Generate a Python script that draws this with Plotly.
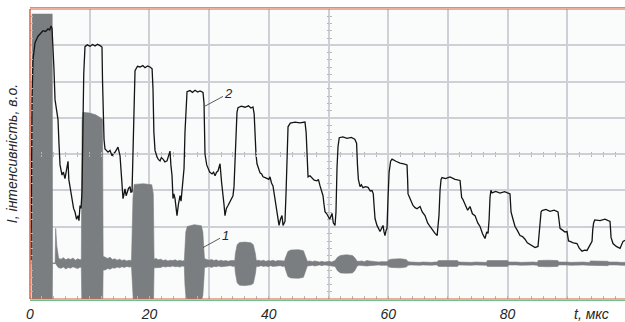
import plotly.graph_objects as go

# ---- data (t in microseconds, intensity in arbitrary units) ----
# curve 1 (grey, oscillating signal): upper / lower envelope
t1 = [0.30, 0.36, 3.72, 3.78, 4.20, 4.30, 4.50, 4.80,
      5.2, 5.6, 6.0, 6.4, 6.8, 7.2, 7.6, 8.0, 8.4, 8.6,
      8.72, 8.85, 10.0, 11.0, 11.8, 12.15, 12.25,
      12.6, 13.0, 13.4, 13.8, 14.2, 14.6, 15.0, 15.4, 15.8, 16.2, 16.6, 17.0,
      17.25, 17.45, 19.0, 20.4, 20.65, 20.78,
      21.1, 21.5, 21.9, 22.3, 22.7, 23.1, 23.5, 23.9, 24.3, 24.7, 25.1, 25.5, 25.85,
      25.95, 26.1, 26.35, 27.5, 28.7, 28.95, 29.15, 29.22,
      29.6, 30.0, 30.4, 30.8, 31.2, 31.6, 32.0, 32.4, 32.8, 33.2, 33.6, 34.0, 34.3,
      34.4, 34.7, 35.1, 36.0, 37.0, 37.4, 37.75, 37.9,
      38.3, 38.7, 39.1, 39.5, 39.9, 40.3, 40.7, 41.1, 41.5, 41.9, 42.3, 42.65,
      42.75, 43.2, 43.7, 45.0, 45.8, 46.3, 46.45,
      46.9, 47.3, 47.7, 48.1, 48.5, 48.9, 49.3, 49.7, 50.1, 50.5, 50.9,
      51.1, 51.5, 52.0, 53.0, 54.0, 54.4, 54.8,
      55.2, 55.6, 56.0, 56.4, 56.8, 57.2, 57.6, 58.0, 58.4, 58.8, 59.2, 59.6, 59.9,
      60.0, 60.5, 62.0, 63.0, 63.35,
      63.8, 64.3, 64.8, 65.3, 65.8, 66.3, 66.8, 67.3, 67.8, 68.2,
      68.4, 70.0, 71.6, 71.8,
      72.5, 73.2, 73.9, 74.6, 75.3, 76.0, 76.45,
      76.6, 78.3, 80.0, 80.15,
      80.8, 81.5, 82.2, 82.9, 83.6, 84.3, 85.0,
      85.1, 86.8, 88.4, 88.55,
      89.2, 89.9, 90.6, 91.3, 92.0, 92.7, 93.4, 93.75,
      93.85, 95.3, 96.8, 96.95,
      97.6, 98.3, 99.0, 99.66]
i1_hi = [0.98, 7.86, 7.86, 0.98, 0.98, 1.95, 1.45, 1.12,
         1.10, 1.14, 1.08, 1.12, 1.09, 1.13, 1.07, 1.11, 1.08, 1.10,
         4.90, 5.15, 5.13, 5.08, 5.00, 4.95, 1.18,
         1.16, 1.12, 1.15, 1.09, 1.11, 1.07, 1.10, 1.06, 1.08, 1.05, 1.07, 1.06,
         2.80, 3.16, 3.18, 3.15, 2.90, 1.10,
         1.12, 1.08, 1.10, 1.06, 1.08, 1.05, 1.07, 1.06, 1.08, 1.05, 1.07, 1.05, 1.06,
         1.50, 1.85, 2.00, 2.05, 2.02, 1.85, 1.30, 1.12,
         1.09, 1.07, 1.09, 1.06, 1.08, 1.05, 1.07, 1.05, 1.06, 1.04, 1.06, 1.05, 1.06,
         1.25, 1.50, 1.56, 1.57, 1.55, 1.50, 1.25, 1.06,
         1.07, 1.05, 1.07, 1.04, 1.06, 1.05, 1.07, 1.04, 1.06, 1.05, 1.06, 1.05,
         1.12, 1.31, 1.35, 1.36, 1.33, 1.12, 1.04,
         1.05, 1.03, 1.05, 1.03, 1.02, 1.04, 1.02, 1.03, 1.04, 1.02, 1.04,
         1.06, 1.15, 1.20, 1.22, 1.20, 1.14, 1.04,
         1.04, 1.05, 1.03, 1.06, 1.05, 1.04, 1.03, 1.04, 1.02, 1.03, 1.02, 1.03, 1.03,
         1.07, 1.10, 1.11, 1.09, 1.03,
         1.02, 1.01, 1.02, 1.01, 1.02, 1.01, 1.02, 1.01, 1.02, 1.02,
         1.06, 1.07, 1.06, 1.02,
         1.01, 1.02, 1.01, 1.02, 1.01, 1.02, 1.01,
         1.06, 1.07, 1.06, 1.02,
         1.01, 1.02, 1.01, 1.02, 1.01, 1.02, 1.01,
         1.06, 1.07, 1.06, 1.02,
         1.01, 1.02, 1.01, 1.02, 1.01, 1.02, 1.01, 1.01,
         1.05, 1.05, 1.04, 1.02,
         1.01, 1.02, 1.01, 1.01]
i1_lo = [0.98, -0.5, -0.5, 0.98, 0.98, 0.98, 0.92, 0.86,
         0.85, 0.88, 0.83, 0.87, 0.85, 0.89, 0.86, 0.84, 0.88, 0.86,
         -0.5, -0.5, -0.5, -0.5, -0.5, -0.5, 0.80,
         0.80, 0.84, 0.82, 0.86, 0.85, 0.88, 0.86, 0.89, 0.87, 0.90, 0.88, 0.89,
         -0.5, -0.5, -0.5, -0.5, -0.5, 0.86,
         0.86, 0.88, 0.87, 0.90, 0.88, 0.90, 0.89, 0.91, 0.89, 0.90, 0.88, 0.91, 0.90,
         0.40, 0.10, -0.05, -0.08, -0.05, 0.10, 0.60, 0.86,
         0.88, 0.90, 0.87, 0.90, 0.89, 0.91, 0.89, 0.90, 0.91, 0.90, 0.92, 0.90, 0.91,
         0.72, 0.45, 0.38, 0.37, 0.39, 0.43, 0.70, 0.90,
         0.90, 0.92, 0.90, 0.91, 0.89, 0.92, 0.90, 0.91, 0.90, 0.92, 0.90, 0.91,
         0.84, 0.62, 0.58, 0.57, 0.60, 0.84, 0.91,
         0.92, 0.93, 0.91, 0.93, 0.94, 0.92, 0.94, 0.93, 0.92, 0.93, 0.92,
         0.90, 0.78, 0.72, 0.71, 0.72, 0.78, 0.91,
         0.93, 0.92, 0.93, 0.91, 0.92, 0.93, 0.94, 0.93, 0.94, 0.93, 0.94, 0.93, 0.93,
         0.89, 0.87, 0.86, 0.88, 0.93,
         0.94, 0.93, 0.94, 0.93, 0.94, 0.93, 0.94, 0.93, 0.94, 0.94,
         0.90, 0.89, 0.90, 0.94,
         0.93, 0.94, 0.93, 0.94, 0.93, 0.94, 0.93,
         0.90, 0.89, 0.90, 0.94,
         0.93, 0.94, 0.93, 0.94, 0.93, 0.94, 0.93,
         0.90, 0.89, 0.90, 0.94,
         0.93, 0.94, 0.93, 0.94, 0.93, 0.94, 0.93, 0.93,
         0.92, 0.91, 0.92, 0.94,
         0.93, 0.94, 0.93, 0.93]

# curve 2 (black)
t2 = [0.17, 0.25, 0.34, 0.5, 0.84, 1.34, 1.8, 2.18, 2.6, 3.02, 3.3, 3.52, 3.69, 3.75, 3.85,
      4.0, 4.19, 4.52, 4.69, 4.85, 5.03, 5.36, 5.6, 5.86, 6.1, 6.37, 6.5, 6.70, 7.04, 7.3,
      7.54, 7.8, 8.04, 8.2, 8.38, 8.55, 8.71,
      8.88, 9.0, 9.21, 9.6, 10.05, 10.5, 10.89, 11.3, 11.73, 12.06, 12.15,
      12.23, 12.4, 12.56, 13.07, 13.4, 13.74, 14.0, 14.24, 14.5, 14.74, 15.08, 15.25, 15.41,
      15.58, 15.75, 15.91, 16.1, 16.25, 16.5, 16.75, 16.9, 17.09, 17.2,
      17.35, 17.59, 18.0, 18.43, 18.9, 19.26, 19.7, 20.10, 20.45, 20.6,
      20.75, 20.94, 21.27, 21.5, 21.78, 22.0, 22.28, 22.6, 22.95, 23.2, 23.45, 23.6, 23.79,
      23.95, 24.1, 24.29, 24.45, 24.62, 24.85, 25.13, 25.3, 25.46, 25.63, 25.8,
      25.96, 26.15, 26.30, 26.8, 27.2, 27.64, 28.1, 28.48, 28.98, 29.15,
      29.25, 29.31, 29.6, 29.82, 30.1, 30.49, 30.75, 30.99, 31.25, 31.49, 31.83, 32.1, 32.33,
      32.5, 32.66, 32.9, 33.17, 33.5, 33.84, 34.0, 34.17,
      34.34, 34.5, 34.67, 34.84, 35.4, 36.01, 36.6, 37.0, 37.35, 37.55,
      37.69, 37.85, 38.02, 38.3, 38.53, 38.8, 39.03, 39.4, 39.70, 40.0, 40.20, 40.45, 40.70,
      40.9, 41.04, 41.2, 41.37, 41.55, 41.71, 41.95, 42.21, 42.38, 42.55, 42.71, 42.9,
      43.05, 43.22, 43.6, 44.39, 45.2, 46.06, 46.25,
      46.40, 46.57, 46.9, 47.24, 47.6, 48.07, 48.3, 48.58, 48.8, 49.08, 49.25, 49.41, 49.7,
      49.92, 50.2, 50.59, 50.8, 51.09, 51.25,
      51.42, 51.59, 51.8, 52.4, 53.10, 53.8, 54.4, 54.7,
      54.85, 55.0, 55.28, 55.5, 55.78, 56.2, 56.62, 57.0, 57.29, 57.5, 57.62, 57.79, 58.12,
      58.4, 58.63, 58.9, 59.13, 59.3, 59.46, 59.65, 59.80,
      59.97, 60.15, 60.4, 60.64, 61.3, 61.98, 62.6, 63.15, 63.25,
      63.32, 63.65, 64.15, 64.5, 64.82, 65.33, 65.7, 66.16, 66.6, 67.0, 67.4, 67.84, 68.2, 68.5,
      68.68, 68.85, 69.01, 69.6, 70.35, 71.2, 72.03, 72.15,
      72.3, 72.5, 72.86, 73.3, 73.70, 74.1, 74.54, 75.0, 75.38, 75.8, 76.21, 76.5, 76.72, 76.9,
      77.05, 77.2, 77.39, 78.0, 78.73, 79.5, 80.40, 80.5,
      80.57, 80.9, 81.24, 81.6, 82.08, 82.5, 82.91, 83.3, 83.75, 84.2, 84.59, 85.09, 85.25,
      85.43, 85.6, 85.76, 86.4, 87.10, 87.8, 88.44, 88.6,
      88.78, 89.2, 89.61, 89.95, 90.2, 90.45, 91.0, 91.62, 92.0, 92.46, 92.9, 93.30, 93.7,
      94.14, 94.25,
      94.4, 94.6, 95.48, 96.3, 97.15, 97.25,
      97.32, 97.65, 98.2, 98.83, 99.33, 99.66]
i2 = [1.07, 3.5, 5.5, 6.6, 7.07, 7.25, 7.33, 7.40, 7.38, 7.45, 7.42, 7.53, 7.46, 7.3, 7.0,
      6.4, 5.5, 5.2, 4.95, 4.3, 3.7, 3.42, 3.5, 3.32, 3.55, 3.80, 3.3, 3.12, 2.77, 2.5,
      2.40, 2.2, 2.30, 2.16, 2.58, 2.5, 2.96,
      4.5, 6.2, 6.96, 7.01, 6.97, 7.02, 6.98, 7.03, 6.99, 6.95, 6.0,
      5.2, 4.4, 4.14, 4.05, 4.1, 3.95, 4.02, 4.05, 4.12, 4.19, 3.95, 3.5, 3.23,
      2.77, 2.9, 3.04, 2.85, 2.96, 3.05, 3.10, 2.95, 2.96, 3.6,
      5.0, 6.3, 6.42, 6.40, 6.44, 6.38, 6.43, 6.40, 6.35, 5.8,
      4.6, 4.1, 3.92, 3.85, 3.81, 3.9, 3.86, 3.78, 3.81, 3.95, 4.08, 3.7, 3.40,
      2.77, 2.9, 2.77, 2.5, 2.30, 2.6, 2.85, 2.7, 2.96, 3.23, 3.6,
      4.6, 5.5, 5.72, 5.75, 5.70, 5.76, 5.71, 5.74, 5.70, 5.4,
      4.5, 4.0, 3.7, 3.59, 3.5, 3.45, 3.5, 3.40, 3.5, 3.53, 3.73, 3.2, 2.90,
      2.6, 2.30, 2.5, 2.58, 2.7, 2.82, 2.85, 3.1,
      4.0, 4.8, 5.15, 5.28, 5.32, 5.29, 5.33, 5.27, 5.30, 5.1,
      4.5, 4.0, 3.73, 3.6, 3.48, 3.45, 3.37, 3.35, 3.32, 3.3, 3.37, 3.2, 3.12,
      2.9, 2.68, 2.5, 2.41, 2.2, 2.03, 2.2, 2.30, 2.03, 2.1, 2.14, 3.0,
      4.2, 4.75, 4.85, 4.88, 4.86, 4.88, 4.6,
      3.9, 3.37, 3.4, 3.33, 3.28, 3.26, 3.3, 3.12, 3.0, 2.85, 2.6, 2.41, 2.35,
      2.27, 2.2, 2.36, 2.1, 2.03, 2.4,
      3.6, 4.2, 4.45, 4.47, 4.43, 4.46, 4.41, 4.3,
      3.7, 3.3, 3.10, 3.15, 3.07, 3.1, 3.08, 2.98, 2.99, 2.9, 2.6, 2.22, 2.03,
      1.95, 1.86, 1.95, 2.03, 1.85, 1.75, 1.9, 1.95,
      2.8, 3.5, 3.8, 3.86, 3.80, 3.75, 3.73, 3.70, 3.3,
      2.9, 2.77, 2.58, 2.52, 2.49, 2.55, 2.4, 2.3, 2.1, 2.0, 1.9, 1.81, 1.75, 2.3,
      3.0, 3.3, 3.35, 3.32, 3.37, 3.30, 3.27, 3.0,
      2.8, 2.75, 2.6, 2.45, 2.55, 2.35, 2.3, 2.1, 2.0, 1.8, 1.67, 1.85, 1.81, 2.2,
      2.8, 3.0, 2.93, 2.97, 2.92, 2.96, 2.90, 2.7,
      2.4, 2.2, 2.0, 1.9, 1.75, 1.72, 1.65, 1.55, 1.5, 1.45, 1.42, 1.45, 1.8,
      2.2, 2.4, 2.44, 2.47, 2.42, 2.45, 2.40, 2.2,
      1.95, 1.9, 1.85, 1.86, 1.6, 1.59, 1.55, 1.53, 1.4, 1.32, 1.35, 1.34, 1.45,
      1.59, 1.9,
      2.1, 2.18, 2.16, 2.20, 2.14, 1.9,
      1.7, 1.53, 1.45, 1.40, 1.59, 1.62]

x_tickvals = [0, 10, 20, 30, 40, 50, 60, 70, 80, 90]
x_ticktext = ["0", "", "20", "", "40", "", "60", "", "80", ""]
x_title = "t, мкс"
y_title = "I, інтенсивність, в.о."

X_RANGE = [0, 99.66]
Y_RANGE = [0, 8]
GREY = "#7b7e81"
GRID = "#cdd0d4"
TICKC = "#b4b7bb"
RED = "#dd6040"
GREEN = "#6fc08f"
TXT = "#262626"

fig = go.Figure()
fig.add_trace(go.Scatter(x=t1, y=i1_lo, mode="lines", line=dict(color=GREY, width=0.6),
                         hoverinfo="skip", showlegend=False))
fig.add_trace(go.Scatter(x=t1, y=i1_hi, mode="lines", line=dict(color=GREY, width=0.6),
                         fill="tonexty", fillcolor=GREY, hoverinfo="skip", showlegend=False))
fig.add_trace(go.Scatter(x=t2, y=i2, mode="lines", line=dict(color="#141414", width=1.3),
                         hoverinfo="skip", showlegend=False))
# dummy traces so the centre graticule axes are drawn
for xa, ya in [("x2", "y"), ("x3", "y"), ("x", "y2"), ("x", "y3")]:
    fig.add_trace(go.Scatter(x=[], y=[], xaxis=xa, yaxis=ya, showlegend=False, hoverinfo="skip"))

minor_x = dict(dtick=2, ticks="inside", ticklen=3, tickwidth=1, tickcolor=TICKC, showgrid=False)
minor_y = dict(dtick=0.2, ticks="inside", ticklen=3, tickwidth=1, tickcolor=TICKC, showgrid=False)
centre = dict(showgrid=False, showline=False, showticklabels=False, ticks="", zeroline=False)

fig.update_layout(
    width=625, height=322,
    margin=dict(l=30, r=0, t=9, b=21),
    paper_bgcolor="#ffffff",
    plot_bgcolor="#fafbfb",
    showlegend=False,
    xaxis=dict(range=X_RANGE, tickvals=x_tickvals, ticktext=x_ticktext,
               showgrid=True, gridcolor=GRID, gridwidth=1.5, zeroline=False,
               ticks="", mirror="ticks", minor=minor_x, ticklabelstandoff=5,
               tickfont=dict(family="Liberation Sans, Arial", size=14, color=TXT, style="italic")),
    yaxis=dict(range=Y_RANGE, dtick=1, showgrid=True, gridcolor=GRID, gridwidth=1.5,
               zeroline=False, showticklabels=False, ticks="", mirror="ticks", minor=minor_y),
    xaxis2=dict(range=X_RANGE, overlaying="x", anchor="free", position=0.5, **centre,
                minor=dict(dtick=2, ticks="inside", ticklen=2, tickcolor=TICKC, showgrid=False)),
    xaxis3=dict(range=X_RANGE, overlaying="x", anchor="free", position=0.5, **centre,
                minor=dict(dtick=2, ticks="outside", ticklen=2, tickcolor=TICKC, showgrid=False)),
    yaxis2=dict(range=Y_RANGE, overlaying="y", anchor="free", position=50 / X_RANGE[1], **centre,
                minor=dict(dtick=0.2, ticks="inside", ticklen=2, tickcolor=TICKC, showgrid=False)),
    yaxis3=dict(range=Y_RANGE, overlaying="y", anchor="free", position=50 / X_RANGE[1], **centre,
                minor=dict(dtick=0.2, ticks="outside", ticklen=2, tickcolor=TICKC, showgrid=False)),
    font=dict(family="Liberation Sans, Arial", color=TXT),
)

# frame lines of the oscillogram
fig.add_shape(type="line", xref="paper", yref="paper", x0=0, x1=1, y0=1, y1=1,
              line=dict(color=RED, width=1.2))
fig.add_shape(type="line", xref="paper", yref="paper", ysizemode="pixel", yanchor=1,
              x0=0, x1=1, y0=1.5, y1=1.5, line=dict(color=GREEN, width=1.2))
fig.add_shape(type="line", xref="paper", yref="paper", x0=0, x1=1, y0=0, y1=0,
              line=dict(color=RED, width=1.2))
fig.add_shape(type="line", xref="paper", yref="paper", ysizemode="pixel", yanchor=0,
              x0=0, x1=1, y0=-1.5, y1=-1.5, line=dict(color=GREEN, width=1.2))
fig.add_shape(type="line", xref="paper", yref="paper", x0=0, x1=0, y0=0, y1=1,
              line=dict(color=RED, width=1.5))

# axis titles
fig.add_annotation(text=y_title, xref="paper", yref="paper", x=-0.030, y=0.50,
                   textangle=-90, showarrow=False, xanchor="center", yanchor="middle",
                   font=dict(size=14, style="italic", color=TXT))
fig.add_annotation(text=x_title, xref="paper", yref="paper", x=0.9445, y=-0.051,
                   showarrow=False, xanchor="center", yanchor="middle",
                   font=dict(size=14, style="italic", color=TXT))

# curve labels with leader lines
fig.add_annotation(text="2", x=29.31, y=5.32, ax=24, ay=-13, showarrow=True, arrowhead=0,
                   arrowwidth=0.8, arrowcolor="#333333", standoff=0,
                   font=dict(size=13, style="italic", color=TXT))
fig.add_annotation(text="1", x=28.98, y=1.42, ax=22, ay=-12, showarrow=True, arrowhead=0,
                   arrowwidth=0.8, arrowcolor="#333333", standoff=0,
                   font=dict(size=13, style="italic", color=TXT))

fig.write_html("out.html")
